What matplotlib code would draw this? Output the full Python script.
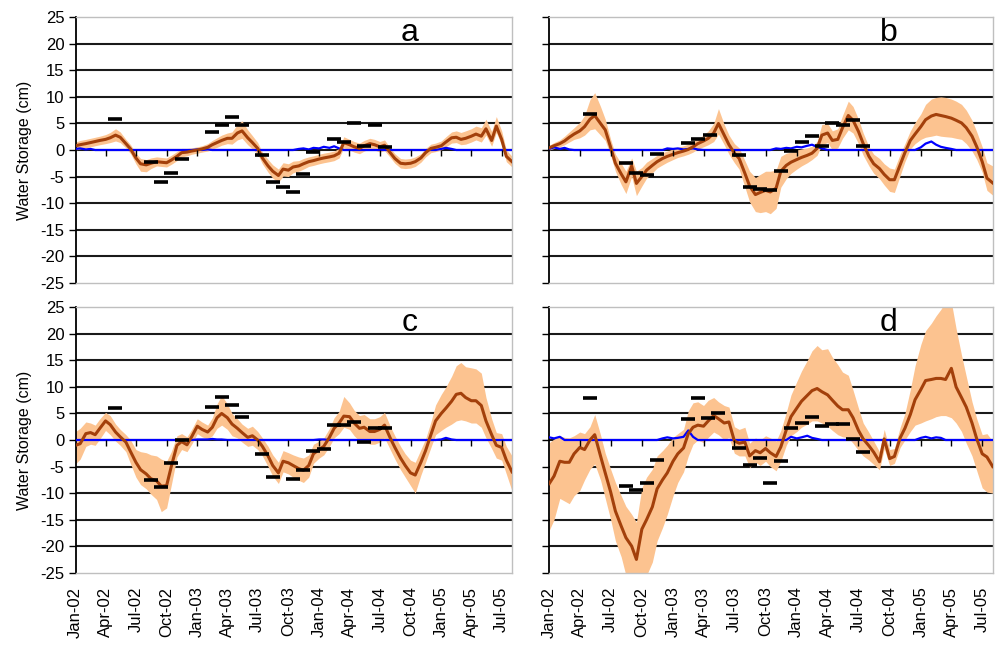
import numpy as np
import pandas as pd
import matplotlib
matplotlib.use("Agg")
import matplotlib.pyplot as plt

plt.rcParams['font.family'] = ['Liberation Sans', 'DejaVu Sans']

# semi-monthly time axis (1st and 15th of each month)
dates = pd.date_range("2002-01-01", "2005-08-01", freq="SMS")
quarters = pd.date_range("2002-01-01", "2005-07-01", freq="QS")

# ---- panel a ----
a_mean = [0.8, 1.0, 1.2, 1.4, 1.6, 1.8, 2.0, 2.3, 2.8, 2.4,
          1.2, 0.2, -1.5, -2.6, -2.8, -2.5, -2.2, -2.3, -2.4, -1.9,
          -1.2, -0.5, -0.4, -0.2, 0.0, 0.2, 0.5, 1.0, 1.4, 1.8,
          2.2, 2.2, 3.2, 3.6, 2.3, 1.4, 0.3, -1.5, -3.0, -4.0,
          -4.8, -3.6, -3.8, -3.2, -3.0, -2.6, -2.2, -2.0, -1.7, -1.5,
          -1.3, -1.1, -0.6, 1.4, 1.0, 0.6, 0.3, 0.8, 1.2, 1.0,
          0.6, 0.9, -0.5, -1.6, -2.5, -2.6, -2.5, -2.2, -1.5, -0.5,
          0.3, 0.5, 0.8, 1.5, 2.3, 2.4, 2.0, 2.2, 2.6, 3.0,
          2.6, 4.0, 1.8, 4.5, 2.0, -1.2, -2.2]
a_lo = [0.0, 0.2, 0.4, 0.6, 0.8, 1.0, 1.2, 1.4, 1.7, 1.4,
        0.4, -0.7, -2.6, -4.0, -4.1, -3.5, -3.0, -3.1, -3.2, -2.7,
        -2.0, -1.3, -1.1, -0.8, -0.6, -0.4, -0.2, 0.2, 0.5, 0.9,
        1.2, 1.1, 1.9, 2.2, 1.0, 0.2, -0.8, -2.6, -4.2, -5.3,
        -6.1, -4.9, -5.0, -4.3, -4.0, -3.6, -3.1, -2.9, -2.6, -2.4,
        -2.2, -2.0, -1.5, 0.4, 0.0, -0.4, -0.7, -0.2, 0.2, 0.0,
        -0.4, -0.1, -1.4, -2.5, -3.4, -3.5, -3.4, -3.1, -2.3, -1.3,
        -0.5, -0.3, 0.0, 0.6, 1.3, 1.4, 1.0, 1.1, 1.5, 1.9,
        1.5, 2.8, 0.7, 3.3, 0.9, -2.2, -3.2]
a_hi = [1.5, 1.8, 2.0, 2.2, 2.4, 2.6, 2.9, 3.3, 4.0, 3.4,
        2.0, 1.0, -0.6, -1.6, -1.8, -1.5, -1.3, -1.4, -1.5, -1.0,
        -0.3, 0.3, 0.3, 0.4, 0.6, 0.8, 1.2, 1.8, 2.3, 2.8,
        3.2, 3.4, 4.8, 5.5, 3.8, 2.7, 1.4, -0.4, -1.8, -2.8,
        -3.6, -2.4, -2.6, -2.1, -2.0, -1.6, -1.3, -1.1, -0.8, -0.6,
        -0.4, -0.2, 0.3, 2.5, 2.0, 1.6, 1.3, 1.8, 2.2, 2.0,
        1.6, 1.9, 0.4, -0.7, -1.6, -1.7, -1.6, -1.3, -0.7, 0.3,
        1.1, 1.3, 1.7, 2.5, 3.4, 3.6, 3.3, 3.6, 4.0, 4.5,
        4.2, 5.8, 3.5, 6.3, 3.6, 0.0, -1.2]
a_blue = [0.2, 0.3, 0.1, 0.2, 0, 0, 0, 0, 0, 0,
          0, 0, 0, 0, 0, 0, 0, 0, 0, 0,
          0, 0, 0, 0, 0.1, 0, 0.1, 0, 0, 0,
          0, 0, 0, 0, 0, 0, 0, 0, 0, 0,
          0, 0, 0, 0, 0.2, 0.3, 0.1, 0.4, 0.3, 0.6,
          0.4, 0.7, 0.3, 0, 0, 0, 0, 0, 0, 0,
          0, 0, 0, 0, 0, 0, 0, 0, 0, 0,
          0, 0, 0.2, 0.4, 0.2, 0, 0, 0, 0, 0,
          0, 0, 0, 0, 0, 0, 0]
a_grace_dates = ["2002-04-30", "2002-08-15", "2002-09-15", "2002-10-15", "2002-11-15",
                 "2003-02-15", "2003-03-15", "2003-04-15", "2003-05-15", "2003-07-15",
                 "2003-08-15", "2003-09-15", "2003-10-15", "2003-11-15", "2003-12-15",
                 "2004-02-15", "2004-03-15", "2004-04-15", "2004-05-15", "2004-06-15",
                 "2004-07-15"]
a_grace = [5.8, -2.3, -6.0, -4.4, -1.7, 3.4, 4.75, 6.2, 4.75, -0.9,
           -6.0, -7.0, -7.9, -4.6, -0.4, 2.0, 1.5, 5.0, 0.8, 4.7, 0.5]

# ---- panel b ----
b_mean = [0.4, 0.8, 1.2, 1.7, 2.4, 3.0, 3.6, 4.4, 5.8, 6.5,
          5.0, 3.8, 0.5, -2.5, -4.5, -6.0, -3.0, -6.3, -5.0, -3.8,
          -2.9, -2.2, -1.6, -1.2, -0.8, -0.5, -0.2, 0.1, 0.6, 1.2,
          1.7, 2.2, 3.2, 5.0, 2.8, 1.0, -0.6, -1.6, -4.4, -6.8,
          -8.4, -8.0, -7.6, -7.9, -7.2, -4.0, -2.9, -2.3, -1.8, -1.4,
          -1.0, -0.6, 0.3, 2.8, 3.2, 1.8, 2.0, 4.2, 6.5, 5.6,
          3.5, 1.2, -1.2, -2.6, -3.5, -4.6, -5.6, -5.6, -2.8, -0.5,
          1.8, 3.0, 4.4, 5.7, 6.4, 6.7, 6.5, 6.3, 6.0, 5.6,
          5.1, 4.2, 2.6, 0.6, -2.2, -5.3, -6.2]
b_lo = [0.0, 0.3, 0.6, 1.0, 1.5, 2.0, 2.3, 2.8, 3.8, 4.0,
        2.8, 1.8, -1.0, -4.0, -6.5, -8.2, -5.0, -8.6, -6.8, -5.3,
        -4.3, -3.4, -2.8, -2.3, -1.8, -1.4, -1.1, -0.8, -0.4, 0.2,
        0.6, 1.0, 1.6, 3.0, 1.0, -0.8, -2.4, -3.6, -7.0, -9.8,
        -11.6, -11.8, -11.6, -12.0, -11.0, -7.0, -5.4, -4.4, -3.6, -3.0,
        -2.4, -1.8, -1.0, 1.0, 1.4, 0.0, 0.4, 2.2, 3.8, 3.2,
        1.2, -1.0, -3.0, -4.4, -5.4, -6.6, -7.8, -8.0, -4.8, -2.2,
        0.2, 1.2, 2.0, 2.4, 2.6, 2.8, 2.6, 2.5, 2.4, 2.2,
        2.0, 1.2, -0.2, -1.8, -4.2, -7.6, -8.5]
b_hi = [0.9, 1.4, 1.9, 2.6, 3.4, 4.2, 5.2, 6.5, 9.5, 10.8,
        8.2, 5.8, 2.0, -0.8, -2.5, -4.0, -1.5, -4.0, -3.3, -2.3,
        -1.6, -1.0, -0.5, -0.2, 0.2, 0.5, 0.8, 1.1, 1.6, 2.2,
        2.8, 3.6, 5.0, 7.8, 4.8, 2.8, 1.2, 0.4, -2.0, -4.0,
        -5.2, -4.6, -4.0, -4.0, -3.8, -1.2, -0.6, -0.4, 0.0, 0.2,
        0.4, 0.7, 1.6, 4.8, 5.0, 3.6, 4.0, 6.5, 9.2, 8.2,
        5.8, 3.2, 0.6, -0.8, -1.6, -2.6, -3.4, -3.6, -0.8, 1.2,
        3.6, 5.2, 6.8, 8.6, 9.6, 9.9, 10.0, 9.9, 9.6, 9.2,
        8.6, 7.5, 5.6, 3.4, 0.6, -2.4, -3.0]
b_blue = [0.2, 0.5, 0.2, 0.4, 0.1, 0, 0, 0, 0, 0,
          0, 0, 0, 0, 0, 0, 0, 0, 0, 0,
          0, 0, 0, 0.3, 0.2, 0.3, 0.1, 0.2, 0.3, 0.1,
          0, 0, 0, 0, 0, 0, 0, 0, 0, 0,
          0, 0, 0, 0, 0.3, 0.2, 0.4, 0.3, 0.6, 0.5,
          0.8, 1.0, 0.6, 0.3, 0, 0, 0, 0, 0, 0,
          0, 0, 0, 0, 0, 0, 0, 0, 0, 0,
          0, 0, 0.5, 1.2, 1.6, 1.0, 0.6, 0.4, 0.2, 0,
          0, 0, 0, 0, 0, 0, 0]
b_grace_dates = ["2002-04-30", "2002-08-15", "2002-09-15", "2002-10-15", "2002-11-15",
                 "2003-02-15", "2003-03-15", "2003-04-20", "2003-07-15", "2003-08-15",
                 "2003-09-15", "2003-10-15", "2003-11-15", "2003-12-15", "2004-01-15",
                 "2004-02-15", "2004-03-15", "2004-04-15", "2004-05-15", "2004-06-15",
                 "2004-07-15"]
b_grace = [6.85, -2.5, -4.4, -4.7, -0.8, 1.25, 2.0, 2.8, -0.95, -6.9,
           -7.3, -7.6, -3.9, -0.2, 1.6, 2.6, 0.8, 5.0, 4.7, 5.7, 0.8]

# ---- panel c ----
c_mean = [-1.0, -0.7, 1.2, 1.4, 1.0, 2.2, 3.6, 2.9, 1.5, 0.6,
          -0.4, -2.2, -4.2, -5.6, -6.4, -7.3, -7.7, -8.7, -8.6, -5.0,
          -1.0, -0.3, -0.9, 0.6, 2.6, 2.0, 1.5, 2.4, 4.2, 5.0,
          4.2, 3.0, 2.2, 1.4, 0.5, 0.8, 0.0, -1.2, -3.0, -4.8,
          -6.2, -4.0, -4.3, -4.8, -5.4, -5.7, -4.8, -2.6, -1.8, -1.2,
          0.5, 2.2, 3.2, 4.5, 4.4, 3.2, 2.2, 2.4, 1.6, 1.6,
          2.0, 2.8, 0.4, -1.4, -3.4, -4.8, -6.2, -6.6, -4.2, -2.0,
          1.0, 3.6, 5.0, 6.0, 7.3, 8.6, 8.8, 8.0, 7.4, 7.4,
          6.5, 3.6, 1.0, -1.0, -1.4, -3.8, -6.0]
c_lo = [-4.5, -3.6, -1.2, -0.8, -1.0, 0.2, 1.8, 1.0, -0.2, -1.0,
        -2.2, -4.5, -7.0, -8.4, -9.2, -10.2, -11.2, -13.5, -12.8, -8.5,
        -3.2, -1.8, -2.2, -0.8, 1.2, 0.6, 0.2, 0.8, 2.2, 2.8,
        2.0, 0.8, 0.4, -0.4, -1.2, -1.0, -1.8, -3.0, -5.0, -6.8,
        -8.2, -6.0, -6.4, -7.0, -7.6, -8.0, -7.0, -4.4, -3.4, -2.8,
        -1.2, 0.4, 1.2, 2.4, 2.0, 0.8, -0.2, 0.0, -0.8, -0.8,
        -0.4, 0.4, -1.8, -3.6, -5.6, -7.0, -8.6, -10.0, -6.6, -4.2,
        -1.4, 1.0, 1.8, 2.4, 3.0, 3.6, 3.8, 3.6, 3.2, 3.2,
        2.4, 0.4, -1.6, -3.4, -3.8, -6.4, -9.6]
c_hi = [1.6, 2.2, 3.4, 3.2, 2.8, 4.0, 5.2, 4.6, 3.0, 2.0,
        1.0, 0.0, -1.8, -2.2, -2.4, -2.8, -3.0, -3.6, -4.0, -2.2,
        0.8, 1.2, 0.6, 2.0, 4.0, 3.4, 2.8, 4.2, 6.8, 8.4,
        6.8, 5.0, 4.0, 3.0, 2.2, 2.6, 1.6, 0.4, -1.2, -2.8,
        -4.2, -2.0, -2.4, -2.8, -3.2, -3.4, -2.8, -0.8, -0.2, 0.4,
        2.2, 4.2, 5.4, 8.2, 7.0, 5.6, 4.6, 4.8, 4.0, 4.0,
        4.4, 5.2, 2.6, 0.8, -1.2, -2.6, -3.8, -4.2, -1.8, 0.2,
        3.4, 6.6, 8.6, 10.0, 12.0, 14.0, 14.6, 13.8, 13.6, 13.4,
        12.6, 8.0, 4.0, 1.4, 1.2, -1.2, -3.0]
c_blue = [0, 0, 0, 0, 0, 0, 0, 0, 0, 0,
          0, 0, 0, 0, 0, 0, 0, 0, 0, 0,
          0, 0, 0, 0, 0.1, 0.1, 0.1, 0.2, 0.1, 0.1,
          0, 0, 0, 0, 0, 0, 0, 0, 0, 0,
          0, 0, 0, 0, 0, 0, 0, 0, 0.1, 0.1,
          0, 0, 0, 0, 0, 0, 0, 0, 0, 0,
          0, 0, 0, 0, 0, 0, 0, 0, 0, 0,
          0, 0, 0.1, 0.4, 0.1, 0, 0, 0, 0, 0,
          0, 0, 0, 0, 0, 0, 0]
c_grace_dates = ["2002-04-30", "2002-08-15", "2002-09-15", "2002-10-15", "2002-11-15",
                 "2003-02-15", "2003-03-15", "2003-04-15", "2003-05-15", "2003-07-15",
                 "2003-08-15", "2003-10-15", "2003-11-15", "2003-12-15", "2004-01-15",
                 "2004-02-15", "2004-03-15", "2004-04-15", "2004-05-15", "2004-06-15",
                 "2004-07-15"]
c_grace = [6.0, -7.6, -8.8, -4.4, 0.0, 6.2, 8.1, 6.6, 4.3, -2.6,
           -6.9, -7.4, -5.6, -2.0, -1.7, 2.8, 2.8, 3.4, -0.4, 2.2, 2.2]

# ---- panel d ----
d_mean = [-8.2, -6.8, -4.0, -4.2, -4.2, -2.6, -1.4, -1.8, 0.0, 1.0,
          -3.0, -6.2, -9.8, -13.4, -16.2, -18.4, -20.0, -22.5, -16.8, -15.0,
          -12.6, -9.2, -7.5, -6.2, -4.0, -2.6, -1.5, 1.2, 2.4, 2.8,
          2.6, 3.6, 4.6, 4.0, 3.2, 3.4, -0.2, -0.6, -0.4, -3.0,
          -2.0, -2.4, -1.6, -2.4, -3.1, -1.3, 1.9, 4.4, 6.0, 7.3,
          8.4, 9.3, 9.7, 9.1, 8.5, 7.5, 6.4, 5.7, 5.7, 4.2,
          1.8, 0.2, -1.1, -2.3, -4.1, 0.2, -3.5, -3.1, 0.4, 2.2,
          4.8, 7.6, 9.5, 11.2, 11.4, 11.6, 11.6, 11.4, 13.5, 10.0,
          8.0, 6.2, 3.2, 0.2, -2.6, -3.2, -5.0]
d_lo = [-17.0, -15.0, -11.0, -11.5, -12.0, -10.5, -9.5, -7.5, -5.5, -4.5,
        -7.5, -11.0, -15.0, -19.0, -22.0, -25.5, -27.0, -30.0, -27.0, -25.5,
        -23.0, -19.0, -16.5, -14.0, -10.5, -8.0, -6.0, -3.0, -0.8, 0.0,
        -0.5, 0.5, 1.5, 1.0, 0.0, 0.5, -2.5, -3.0, -3.0, -5.2,
        -4.2, -4.8, -4.0, -5.0, -5.8, -4.0, -1.0, 0.8, 1.6, 2.4,
        3.0, 3.6, 3.6, 3.2, 2.6, 1.8, 1.0, 0.6, 0.4, -0.6,
        -2.0, -3.0, -3.8, -4.6, -5.6, -1.6, -4.8, -4.4, -1.4, 0.0,
        1.6, 2.8, 3.2, 3.6, 4.0, 4.4, 4.6, 4.6, 4.2, 3.2,
        1.6, -0.6, -3.0, -5.8, -9.0, -9.8, -10.0]
d_hi = [-0.5, 0.2, 0.8, 0.5, 0.4, 0.8, 1.5, 1.2, 2.5, 4.8,
        1.0, -2.5, -5.5, -8.0, -10.5, -12.5, -14.0, -15.5, -9.0, -7.0,
        -5.5, -3.0, -2.0, -1.0, 0.5, 1.2, 2.0, 5.5, 7.0, 7.2,
        6.5, 7.5, 8.0, 7.2, 6.5, 6.2, 2.5, 2.0, 2.4, -0.6,
        0.4, 0.0, 0.8, 0.4, -0.2, 1.8, 5.2, 8.5, 11.0, 13.0,
        15.0, 16.8, 17.8, 17.0, 17.2, 15.6, 14.2, 12.8, 12.2, 9.4,
        6.0, 3.2, 1.4, -0.2, -2.2, 2.0, -1.8, -1.6, 2.4, 5.0,
        9.5, 14.0, 18.0, 20.6, 22.0, 23.4, 24.6, 26.0, 26.0, 21.0,
        16.0, 12.0, 7.2, 4.0, 1.0, 1.2, -0.2]
d_blue = [0.5, 0.3, 0.6, 0, 0, 0, 0, 0, 0, 0,
          0, 0, 0, 0, 0, 0, 0, 0, 0, 0,
          0, 0, 0.3, 0.5, 0.3, 0.4, 0.6, 1.8, 0.6, 0,
          0, 0, 0, 0, 0, 0, 0, 0, 0, 0,
          0, 0, 0, 0, 0, 0, 0, 0.6, 0.3, 0.5,
          0.8, 0.4, 0.2, 0, 0, 0, 0, 0, 0, 0,
          0, 0, 0, 0, 0, 0, 0, 0, 0, 0,
          0, 0, 0.4, 0.6, 0.3, 0.5, 0.4, 0, 0, 0,
          0, 0, 0, 0, 0, 0, 0]
d_grace_dates = ["2002-04-30", "2002-08-15", "2002-09-15", "2002-10-15", "2002-11-15",
                 "2003-02-15", "2003-03-15", "2003-04-15", "2003-05-15", "2003-07-15",
                 "2003-08-15", "2003-09-15", "2003-10-15", "2003-11-15", "2003-12-15",
                 "2004-01-15", "2004-02-15", "2004-03-15", "2004-04-15", "2004-05-15",
                 "2004-06-15", "2004-07-15"]
d_grace = [8.0, -8.6, -9.5, -8.05, -3.7, 4.0, 7.9, 4.2, 5.0, -1.5,
           -4.7, -3.4, -8.1, -4.0, 2.2, 3.2, 4.4, 2.7, 3.0, 3.0, 0.2, -2.3]

BAND = '#FCC390'
BROWN = '#A3400B'
BLUE = '#0000FF'
EDGE = '#BFBFBF'

W, H = 1000, 646
fig = plt.figure(figsize=(W / 100, H / 100), dpi=100)

# pixel boxes (left, top, width, height)
panels = [
    ('a', (75.5, 17.3, 436.5, 265.4), a_mean, a_lo, a_hi, a_blue, a_grace_dates, a_grace),
    ('b', (549.3, 17.3, 443.4, 265.4), b_mean, b_lo, b_hi, b_blue, b_grace_dates, b_grace),
    ('c', (75.5, 307.3, 436.5, 265.4), c_mean, c_lo, c_hi, c_blue, c_grace_dates, c_grace),
    ('d', (549.3, 307.3, 443.4, 265.4), d_mean, d_lo, d_hi, d_blue, d_grace_dates, d_grace),
]

for letter, (l, t, w, h), mean, lo, hi, blue, gdates, gvals in panels:
    ax = fig.add_axes([l / W, 1 - (t + h) / H, w / W, h / H])
    left_col = letter in 'ac'
    bottom_row = letter in 'cd'

    for y in range(-20, 25, 5):
        ax.axhline(y, color='#1a1a1a', lw=1.5, zorder=1)

    ax.fill_between(dates, lo, hi, color=BAND, lw=0, zorder=2)
    ax.plot(dates, blue, color=BLUE, lw=1.6, zorder=3)
    ax.plot(dates, mean, color=BROWN, lw=2.2, zorder=4)
    ax.plot(pd.to_datetime(gdates), gvals, ls='none', marker='_', ms=10,
            mew=2.6, color='k', zorder=5)

    # small tick marks along the zero line
    ax.plot(quarters[1:], np.zeros(len(quarters) - 1), ls='none', marker=3,
            ms=4, mew=1, color='k', zorder=5)

    ax.set_xlim(pd.Timestamp("2002-01-01"), pd.Timestamp("2005-08-01"))
    ax.set_ylim(-25, 25)
    ax.set_yticks(range(-25, 26, 5))
    ax.set_xticks(quarters)
    ax.tick_params(axis='x', length=0, pad=10)
    ax.tick_params(axis='y', length=5, width=1, direction='out', pad=3)

    if bottom_row:
        ax.set_xticklabels([d.strftime('%b-%y') for d in quarters],
                           rotation=90, fontsize=12)
    else:
        ax.set_xticklabels([])
    if left_col:
        ax.set_yticklabels([str(v) for v in range(-25, 26, 5)], fontsize=12)
        ax.set_ylabel('Water Storage (cm)', fontsize=11.5, labelpad=6)
    else:
        ax.set_yticklabels([])

    for side in ['top', 'right', 'bottom']:
        ax.spines[side].set_color(EDGE)
        ax.spines[side].set_linewidth(1.0)
    ax.spines['left'].set_color('k')
    ax.spines['left'].set_linewidth(1.3)

    ax.text(0.765, 0.94, letter, transform=ax.transAxes, fontsize=23,
            ha='center', va='center', zorder=6)

fig.savefig('out.png', dpi=100)
